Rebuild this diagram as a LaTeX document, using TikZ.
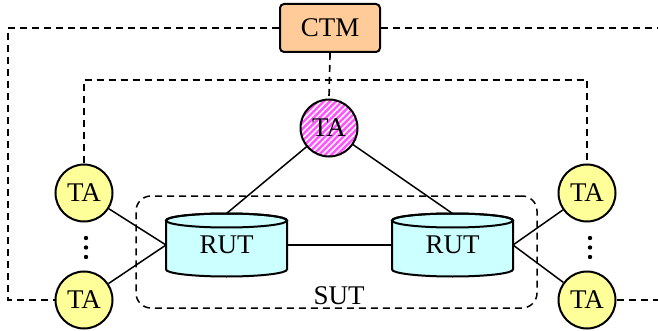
\documentclass[tikz,border=0pt]{standalone}
\usepackage{fontspec}
\setmainfont{Liberation Serif}
\usetikzlibrary{patterns.meta}
\definecolor{ctmfill}{HTML}{FFCC99}
\definecolor{tafill}{HTML}{FFFF99}
\definecolor{rutfill}{HTML}{CCFFFF}
\definecolor{pinkta}{HTML}{FF55FF}
\pgfdeclarelayer{background}
\pgfsetlayers{background,main}
\begin{document}
\begin{tikzpicture}[x=1pt,y=-1pt,
  font=\fontsize{27}{31}\selectfont,
  tabase/.style={circle, draw, line width=2pt, minimum size=57pt, inner sep=0pt},
  ta/.style={tabase, fill=tafill},
  tapink/.style={tabase, preaction={fill=pinkta},
     pattern={Lines[angle=45,distance=4.3pt,line width=1.5pt]}, pattern color=white},
  ctmbox/.style={draw, line width=2pt, rounded corners=4pt, fill=ctmfill,
     minimum width=100pt, minimum height=48pt, inner sep=0pt},
  rutnode/.style={minimum width=121pt, minimum height=63pt, inner sep=0pt, outer sep=0pt},
  rutshape/.style={draw, line width=2pt, fill=rutfill},
  sutbox/.style={draw, dash pattern=on 7pt off 5pt, line width=1.5pt,
     rounded corners=15pt, minimum width=401pt, minimum height=112pt},
  dl/.style={dash pattern=on 7pt off 5pt, line width=1.7pt},
  sl/.style={line width=1.5pt}
]
\useasboundingbox (0,0) rectangle (658,331);

% nodes
\node[ctmbox] (ctm) at (330,28) {CTM};
\node[tapink] (pink) at (329,128) {TA};
\node[ta] (tatl) at (84,193) {TA};
\node[ta] (tabl) at (84,300) {TA};
\node[ta] (tatr) at (587,193) {TA};
\node[ta] (tabr) at (587,300) {TA};
\node[rutnode] (r1) at (226.5,245) {RUT};
\node[rutnode] (r2) at (452.5,245) {RUT};
\node[sutbox] (sut) at (336.5,252) {};
\node (sutlabel) at (339,296) {SUT};

\coordinate (lo) at (8,0);
\coordinate (ro) at (658,0);
\coordinate (mid) at (0,80);

% background shapes
\begin{pgfonlayer}{background}
  \foreach \r in {r1,r2}{
    \path[rutshape] (\r.north west) ++(0,7) -- ++(0,49)
      arc[start angle=180, end angle=360, x radius=60.5pt, y radius=7pt]
      -- ++(0,-49)
      arc[start angle=0, end angle=180, x radius=60.5pt, y radius=7pt] -- cycle;
    \draw[line width=2pt] (\r.north) ++(0,7) ellipse[x radius=60.5pt, y radius=7pt];
  }
  % solid connectors
  \draw[sl] (pink) -- (r1.north);
  \draw[sl] (pink) -- (r2.north);
  \draw[sl] (tatl) -- (r1.west);
  \draw[sl] (tabl) -- (r1.west);
  \draw[sl] (r1.east) -- (r2.west);
  \draw[sl] (r2.east) -- (tatr);
  \draw[sl] (r2.east) -- (tabr);
\end{pgfonlayer}

% dashed connectors
\draw[dl] (ctm.west) -| (lo |- tabl.west) -- (tabl.west);
\draw[dl] (ctm.east) -- (ctm.east -| ro);
\draw[dl] (tabr.east) -- (tabr.east -| ro);
\draw[dl] (ctm.south) -- (pink.north);
\draw[dl] (tatl.north) |- (tatr.north |- mid) -- (tatr.north);

% vertical ellipses
\foreach \x in {86,590}{
  \foreach \y in {238,247.5,257}{
    \fill (\x,\y) circle (2.2pt);
  }
}
\end{tikzpicture}
\end{document}
